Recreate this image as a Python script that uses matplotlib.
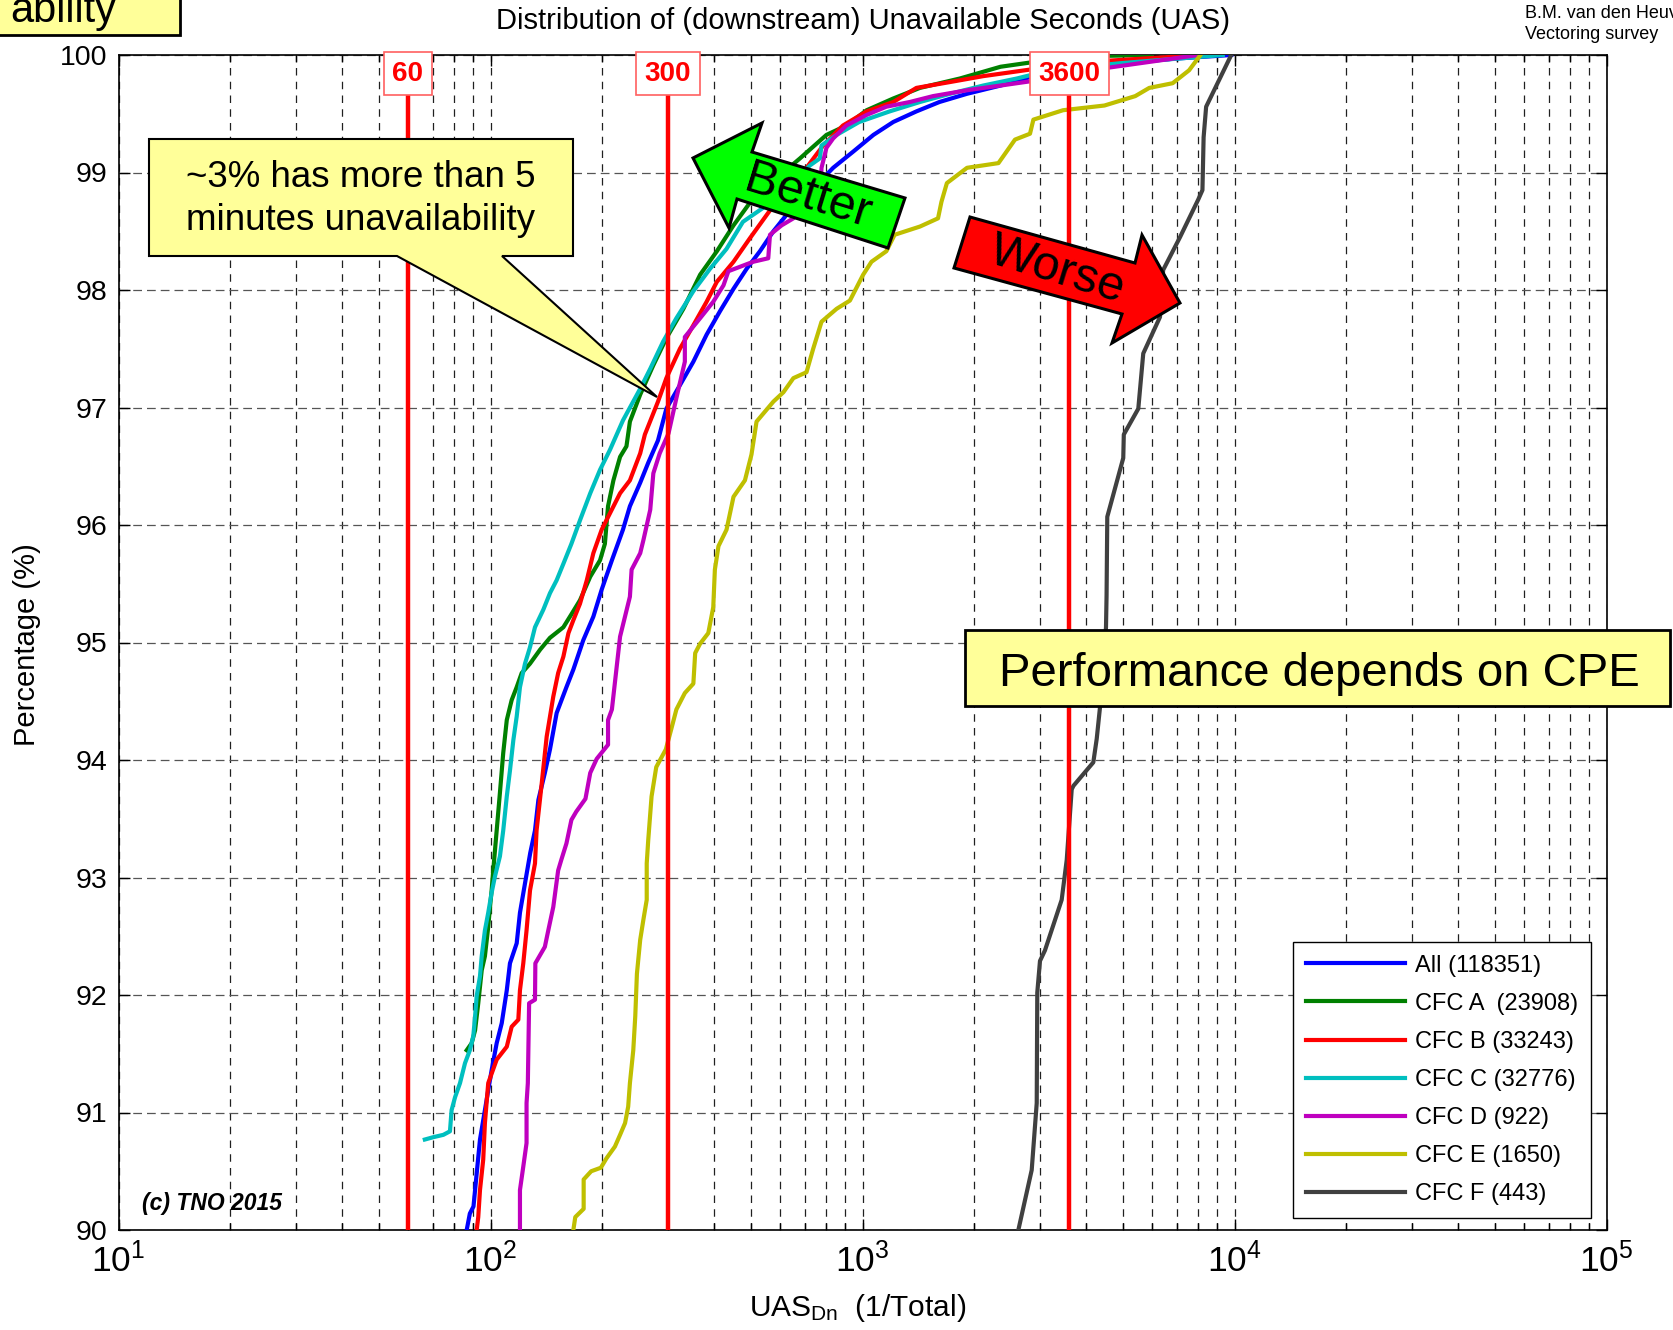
import numpy as np
import matplotlib
matplotlib.use("Agg")
import matplotlib.pyplot as plt
import matplotlib.transforms as mtransforms
from matplotlib.patches import Polygon, Rectangle

plt.rcParams['font.family'] = ['Liberation Sans', 'DejaVu Sans']
plt.rcParams['mathtext.fontset'] = 'custom'
plt.rcParams['mathtext.rm'] = 'Liberation Sans'
plt.rcParams['mathtext.it'] = 'Liberation Sans:italic'
plt.rcParams['mathtext.bf'] = 'Liberation Sans:bold'

# cumulative distribution of unavailable seconds per CPE group
uas_all = [86.3, 88, 90, 91.8, 93.7, 96.6, 98.6, 100.7, 103.9, 107.2, 110.6, 112.8,
           117.6, 120, 123.8, 127.9, 131.7, 134.5, 140, 144.5, 150.6, 160, 167, 177.6,
           189, 199, 212, 227, 237, 252.6, 265.5, 282, 297, 323, 351, 381, 414, 450,
           488, 530, 576, 625, 679, 750, 834, 946, 1070, 1210, 1396, 1610, 1910, 2350,
           2880, 3540, 4930, 7000, 9800]
pct_all = [90, 90.14, 90.20, 90.48, 90.77, 91.02, 91.19, 91.36, 91.59, 91.76, 92.04,
           92.27, 92.44, 92.70, 92.95, 93.21, 93.40, 93.66, 93.89, 94.09, 94.40, 94.62,
           94.77, 95.02, 95.22, 95.45, 95.70, 95.96, 96.16, 96.36, 96.53, 96.72, 96.99,
           97.19, 97.39, 97.62, 97.82, 98.01, 98.18, 98.33, 98.50, 98.64, 98.75, 98.89,
           99.04, 99.18, 99.32, 99.43, 99.52, 99.60, 99.67, 99.74, 99.82, 99.87, 99.93,
           99.97, 100]

uas_a = [86.3, 89, 90.9, 92.7, 94.7, 96.6, 98.6, 99.7, 100.7, 101.7, 102.8, 103.9, 106,
         108.2, 110.6, 114, 117.6, 121.3, 127.7, 136, 144.5, 157, 165, 174, 185.4, 197,
         203, 207, 214, 223, 232, 237, 252.6, 274, 297, 330, 366, 406, 450, 508, 587,
         679, 800, 905, 1026, 1210, 1427, 1827, 2350, 2880, 4000, 6000]
pct_a = [91.53, 91.59, 91.70, 91.93, 92.21, 92.33, 92.58, 92.75, 92.89, 93.06, 93.23,
         93.40, 93.72, 94.06, 94.34, 94.51, 94.62, 94.74, 94.82, 94.94, 95.04, 95.13,
         95.24, 95.36, 95.56, 95.70, 95.84, 96.16, 96.38, 96.58, 96.67, 96.88, 97.11,
         97.36, 97.59, 97.84, 98.13, 98.33, 98.55, 98.78, 98.95, 99.12, 99.32, 99.40,
         99.53, 99.63, 99.72, 99.80, 99.90, 99.94, 99.99, 100]

uas_b = [91.8, 92.7, 93.7, 95.6, 96.6, 98.6, 103.9, 110.6, 114, 118.8, 120, 122.5, 125,
         127.7, 131.7, 133, 137.3, 141.6, 147.5, 152, 157, 162, 167, 174, 181.5, 189,
         199, 209.5, 223, 237, 252.6, 260, 282, 297, 323, 351, 381, 406, 450, 498, 553,
         625, 707, 784, 886, 1026, 1210, 1396, 1720, 2110, 2880, 4500, 8200]
pct_b = [90, 90.11, 90.34, 90.60, 90.91, 91.25, 91.45, 91.56, 91.73, 91.79, 92.04,
         92.27, 92.55, 92.89, 93.12, 93.40, 93.80, 94.20, 94.54, 94.74, 94.88, 95.08,
         95.19, 95.33, 95.53, 95.76, 95.96, 96.10, 96.27, 96.38, 96.61, 96.77, 97.05,
         97.25, 97.50, 97.70, 97.90, 98.07, 98.24, 98.44, 98.64, 98.87, 99.04, 99.23,
         99.40, 99.52, 99.60, 99.72, 99.77, 99.82, 99.88, 99.95, 100]

uas_c = [66.6, 70.2, 74.7, 77.8, 78.6, 80.3, 82.8, 85.4, 88, 89.9, 90.9, 91.8, 93.7,
         94.7, 96.6, 98.6, 100.7, 102.8, 106, 108.2, 110.6, 112.8, 115.2, 117.6, 120,
         123.8, 127.7, 131.7, 138.7, 144.5, 150.6, 157, 165, 174, 185.4, 197, 209.5,
         227, 252.6, 268.8, 291, 316, 351, 389, 431, 477, 541, 638, 722, 768, 776, 852,
         980, 1183, 1427, 1720, 2110, 2600, 3190, 4930, 9300]
pct_c = [90.77, 90.79, 90.81, 90.84, 91.02, 91.13, 91.25, 91.42, 91.53, 91.65, 91.82,
         91.99, 92.16, 92.33, 92.55, 92.70, 92.87, 93.01, 93.18, 93.40, 93.69, 93.91,
         94.17, 94.37, 94.62, 94.82, 94.96, 95.13, 95.28, 95.42, 95.53, 95.67, 95.84,
         96.04, 96.27, 96.47, 96.64, 96.89, 97.16, 97.33, 97.56, 97.76, 97.99, 98.18,
         98.35, 98.58, 98.70, 98.89, 99.06, 99.12, 99.23, 99.32, 99.43, 99.52, 99.60,
         99.67, 99.74, 99.80, 99.87, 99.93, 100]

uas_d = [120, 120, 122.5, 125, 125, 126, 127, 131.7, 132, 140, 143, 147.5, 152, 155,
         160, 165, 170, 180, 185.4, 193, 207, 207, 212, 223, 237, 239.5, 252.6, 257.6,
         268.8, 274, 285, 301, 316, 333, 333, 366, 397, 423, 436, 508, 558, 564, 606,
         652, 707, 768, 776, 800, 834, 905, 1026, 1159, 1340, 1547, 1910, 2350, 2880,
         3540, 4530, 8000]
pct_d = [90, 90.34, 90.54, 90.74, 91.08, 91.25, 91.93, 91.96, 92.27, 92.41, 92.55,
         92.75, 93.06, 93.15, 93.29, 93.49, 93.56, 93.67, 93.89, 94.01, 94.13, 94.34,
         94.43, 95.05, 95.39, 95.62, 95.76, 95.87, 96.13, 96.44, 96.61, 96.78, 97.08,
         97.39, 97.60, 97.76, 97.90, 98.04, 98.16, 98.24, 98.27, 98.47, 98.55, 98.61,
         98.70, 98.81, 99.04, 99.21, 99.29, 99.40, 99.49, 99.56, 99.60, 99.65, 99.70,
         99.74, 99.78, 99.83, 99.89, 100]

uas_e = [167, 169, 178, 178, 186.5, 198, 205, 216, 223, 230, 234.5, 237, 242, 245,
         247.5, 252.6, 257.6, 263, 263, 265.5, 271, 279, 296, 306, 316, 333, 351, 355,
         366, 385, 397, 401, 410, 431, 450, 483, 503, 519, 576, 613, 652, 707, 737, 776,
         852, 925, 1004, 1057, 1159, 1220, 1427, 1596, 1630, 1686, 1910, 2320, 2570,
         2820, 2880, 3460, 4470, 5410, 5900, 6820, 7550, 8100]
pct_e = [90, 90.11, 90.18, 90.43, 90.50, 90.53, 90.61, 90.71, 90.81, 90.91, 91.05,
         91.25, 91.53, 91.82, 92.18, 92.47, 92.64, 92.81, 93.12, 93.32, 93.69, 93.94,
         94.09, 94.26, 94.43, 94.57, 94.65, 94.91, 94.99, 95.08, 95.30, 95.62, 95.82,
         95.96, 96.24, 96.38, 96.60, 96.88, 97.05, 97.13, 97.25, 97.30, 97.50, 97.73,
         97.84, 97.91, 98.13, 98.24, 98.33, 98.47, 98.54, 98.61, 98.75, 98.91, 99.04,
         99.08, 99.28, 99.33, 99.45, 99.53, 99.57, 99.65, 99.72, 99.76, 99.87, 100]

uas_f = [2624, 2850, 2940, 2950, 3000, 3094, 3431, 3540, 3651, 3690, 4173, 4262, 4350,
         4514, 4530, 4550, 5023, 5040, 5513, 5685, 6305, 6430, 7138, 7990, 8200, 8260,
         8390, 9800]
pct_f = [90, 90.51, 91.08, 92.02, 92.29, 92.38, 92.81, 93.15, 93.75, 93.78, 93.98,
         94.18, 94.45, 95.13, 95.40, 96.07, 96.57, 96.77, 96.99, 97.46, 97.77, 98.17,
         98.45, 98.77, 98.85, 99.30, 99.56, 100]

series_labels = ['All (118351)', 'CFC A  (23908)', 'CFC B (33243)', 'CFC C (32776)',
                 'CFC D (922)', 'CFC E (1650)', 'CFC F (443)']
series_colors = ['#0000ff', '#008000', '#ff0000', '#00bfbf', '#bf00bf', '#bfbf00',
                 '#404040']
series = [(uas_all, pct_all), (uas_a, pct_a), (uas_b, pct_b), (uas_c, pct_c),
          (uas_d, pct_d), (uas_e, pct_e), (uas_f, pct_f)]

# reference durations: 1 minute, 5 minutes, 1 hour
limits = [60, 300, 3600]

W, H = 1673, 1330
fig = plt.figure(figsize=(W / 100, H / 100), dpi=100)
ax = fig.add_axes([118.5 / W, 1 - 1230 / H, 1488 / W, 1175 / H])

# pixel coordinates of the canvas, origin top-left
px = mtransforms.Affine2D().scale(1 / W, -1 / H).translate(0, 1) + fig.transFigure

for (x, y), lab, col in zip(series, series_labels, series_colors):
    ax.plot(x, y, color=col, lw=3.0, label=lab, zorder=3)

for v in limits:
    ax.axvline(v, color='#ff0000', lw=3.2, zorder=4)
    ax.text(v, 99.84, str(v), color='#ff0000', fontsize=20, fontweight='bold',
            ha='center', va='center', zorder=8, clip_on=False,
            bbox=dict(boxstyle='square,pad=0.3', fc='white', ec='#ff6060', lw=1.2))

ax.set_xscale('log')
ax.set_xlim(10, 1e5)
ax.set_ylim(90, 100)
ax.set_yticks(np.arange(90, 101, 1))

ax.grid(True, axis='x', which='both', color='#202020', lw=0.9, ls=(0, (6, 5)))
ax.grid(True, axis='y', which='major', color='#555555', lw=0.9, ls=(0, (7, 4)))
ax.set_axisbelow(True)

ax.tick_params(which='both', direction='in', top=True, right=True, width=1)
ax.tick_params(which='major', length=8)
ax.tick_params(which='minor', length=5)
ax.tick_params(axis='y', labelsize=20.5, pad=8)
ax.tick_params(axis='x', labelsize=25.5, pad=9)
for s in ax.spines.values():
    s.set_linewidth(1.2)

leg = ax.legend(loc='lower right', bbox_to_anchor=(0.9896, 0.0102), borderaxespad=0,
                fontsize=17, handlelength=4.2, handletextpad=0.4, borderpad=0.55,
                labelspacing=0.68, fancybox=False, framealpha=1, edgecolor='black')
leg.get_frame().set_linewidth(1.0)
for h in leg.get_lines():
    h.set_linewidth(3)
leg.set_zorder(10)

fig.text(862.5 / W, 1 - 21 / H, 'Distribution of (downstream) Unavailable Seconds (UAS)',
         fontsize=21, ha='center', va='center')
fig.text(858 / W, 1 - 1316 / H, r'UAS$_{\mathregular{Dn}}$  (1/Total)', fontsize=21.5,
         ha='center', va='baseline')
fig.text(27 / W, 1 - 645 / H, 'Percentage (%)', fontsize=21, rotation=90,
         ha='center', va='center')

# header notes
fig.add_artist(Rectangle((-10, -10), 190, 45, transform=px, fc='#ffff99', ec='black',
                         lw=2, zorder=5))
fig.text(116, 22, 'ability', transform=px, fontsize=30, ha='right', va='baseline',
         zorder=6)
fig.text(1525, 18, 'B.M. van den Heuvel', transform=px, fontsize=13, ha='left',
         va='baseline')
fig.text(1525, 39, 'Vectoring survey', transform=px, fontsize=13, ha='left',
         va='baseline')

# callout
callout = [(149, 139), (573, 139), (573, 256), (502, 256), (657, 397), (397, 256),
           (149, 256)]
fig.add_artist(Polygon(callout, closed=True, transform=px, fc='#ffff99', ec='black',
                       lw=1.5, zorder=5))
fig.text(361, 199, '~3% has more than 5\nminutes unavailability', transform=px,
         fontsize=26.5, ha='center', va='center', linespacing=1.32, zorder=6)

# arrows
better = [(693, 158), (762, 123), (752, 152), (905, 198), (888, 248), (737, 199),
          (729, 228)]
fig.add_artist(Polygon(better, closed=True, transform=px, fc='#00ff00', ec='black',
                       lw=2.2, joinstyle='miter', zorder=5))
fig.text(808, 197, 'Better', transform=px, fontsize=35, rotation=-17,
         rotation_mode='anchor', ha='center', va='center', zorder=6)

worse = [(970, 217), (1135, 263), (1142, 235), (1180, 303), (1112, 343), (1122, 314),
         (954, 268)]
fig.add_artist(Polygon(worse, closed=True, transform=px, fc='#ff0000', ec='black',
                       lw=2.2, joinstyle='miter', zorder=5))
fig.text(1057, 270, 'Worse', transform=px, fontsize=35, rotation=-17,
         rotation_mode='anchor', ha='center', va='center', zorder=6)

fig.add_artist(Rectangle((965.5, 629.5), 704.5, 76.5, transform=px, fc='#ffff99',
                         ec='black', lw=2, zorder=5))
fig.text(1319, 674, 'Performance depends on CPE', transform=px, fontsize=34,
         ha='center', va='center', zorder=6)

fig.text(142, 1210, '(c) TNO 2015', transform=px, fontsize=16.5, fontweight='bold',
         fontstyle='italic', ha='left', va='baseline')

fig.savefig('out.png', dpi=100)
